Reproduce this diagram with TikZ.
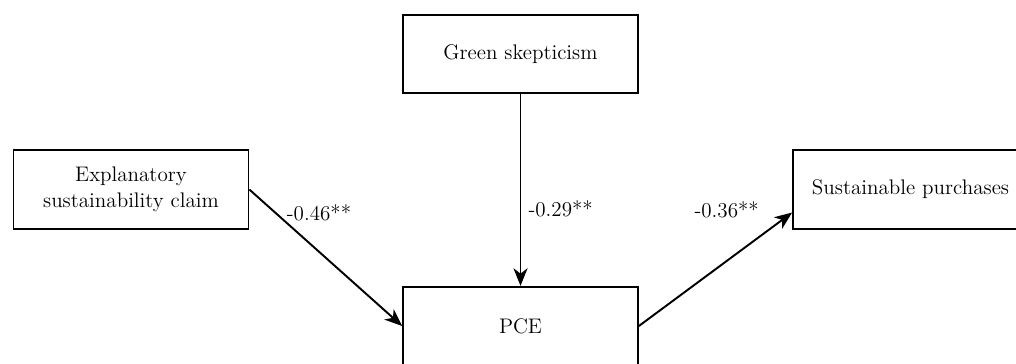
\documentclass[tikz,border=0pt]{standalone}
\usepackage{tikz}
\usetikzlibrary{arrows.meta}

\begin{document}
\begin{tikzpicture}[x=0.02cm, y=-0.02cm, >={Stealth[length=10pt, width=8pt, inset=3pt]},
    every node/.style={inner sep=1pt, font=\fontsize{12}{15}\selectfont},
    varbox/.style={draw, line width=1pt, minimum width=4.7cm, minimum height=1.57cm, align=center},
    path/.style={->, line width=1.1pt}]
      \useasboundingbox (0,0) rectangle (1016,363);

      \node[varbox] at (520.5,54) (skep) {Green skepticism};
      \node[varbox] at (131,189.5) (claim) {Explanatory\\sustainability claim};
      \node[varbox] at (520.5,326) (pce) {PCE};
      \node[varbox] at (910.5,189.5) (purch) {Sustainable purchases};

      \draw[path] (claim.east) -- node[pos=0.17, anchor=west, xshift=5pt] {-0.46**} (pce.west);
      \draw[path] (skep) -- node[pos=0.6, right=3pt] {-0.29**} (pce);
      \draw[path] (pce.east) -- node[pos=0.8, anchor=south east, yshift=8pt] {-0.36**} (purch.191);
    \end{tikzpicture}
\end{document}
